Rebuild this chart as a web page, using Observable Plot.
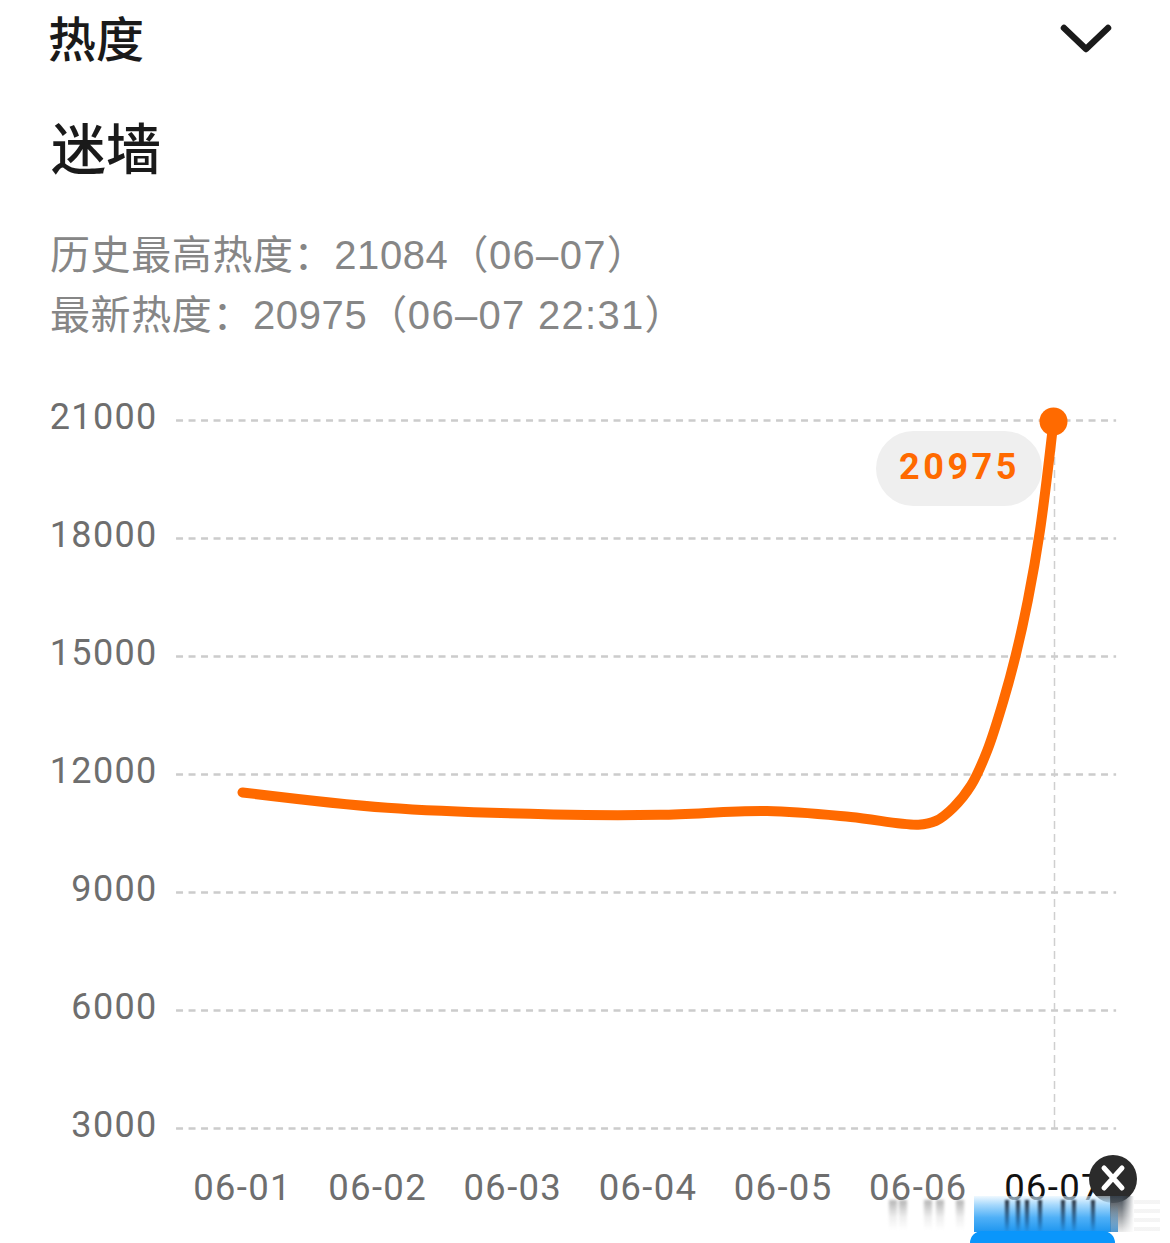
<!DOCTYPE html>
<html lang="zh">
<head>
<meta charset="utf-8">
<script src="https://cdn.jsdelivr.net/npm/d3@7"></script>
<script src="https://cdn.jsdelivr.net/npm/@observablehq/plot@0.6"></script>
<style>
  html, body { margin: 0; padding: 0; background: #fff; }
  #page { position: relative; width: 1170px; height: 1243px; overflow: hidden; font-family: "Liberation Sans", "Noto Sans CJK SC", sans-serif; }
  #head { position: absolute; left: 0; top: 0; width: 1170px; height: 380px; }
  #head div { position: absolute; white-space: pre; font-family: "Liberation Sans", "Noto Sans CJK SC", sans-serif; }
  #head .sub { font-size: 40px; line-height: 60px; color: #868686; letter-spacing: 0.6px; }
  #head .sub span { letter-spacing: 1.3px; }
  #chart { position: absolute; left: 0; top: 380px; z-index: 2; }
  #chart svg text { letter-spacing: 1.3px; }
  #chart svg .val text { letter-spacing: 3.5px; }
  .deco { position: absolute; z-index: 3; }
</style>
</head>
<body>
<div id="page">
  <div id="head">
    <div style="left:48px;top:9px;font-size:48px;line-height:64px;font-weight:500;color:#1a1a1a">热度</div>
    <svg style="position:absolute;left:1056px;top:19px" width="60" height="40"><path d="M8 9 L30 30 L52 9" fill="none" stroke="#1a1a1a" stroke-width="6.5" stroke-linecap="round" stroke-linejoin="round"/></svg>
    <div style="left:51px;top:110px;font-size:55px;line-height:80px;font-weight:500;color:#1a1a1a">迷墙</div>
    <div class="sub" style="left:50px;top:225px">历史最高热度：21084（<span>06–07</span>）</div>
    <div class="sub" style="left:50px;top:285px">最新热度：20975（<span>06–07 22:31</span>）</div>
  </div>
  <div class="deco" style="z-index:1;left:876px;top:431px;width:166px;height:75px;border-radius:37.5px;background:#efefef"></div>
  <div id="chart"></div>
</div>
<script>
// Day of June (fractional where the curve was read between dates) and heat value
const days = [1, 2.07, 3.30, 4.09, 4.88, 5.50, 6.00, 6.13, 6.26, 6.39, 6.51, 6.63, 6.72, 6.81, 6.90, 7];
const heat = [11544, 11155, 10985, 10975, 11070, 10920, 10725, 10820, 11162, 11722, 12611, 13882, 15026, 16424, 18204, 20975];
const yTicks = [3000, 6000, 9000, 12000, 15000, 18000, 21000];
const xTicks = [1, 2, 3, 4, 5, 6, 7];
const xLabels = ["06-01", "06-02", "06-03", "06-04", "06-05", "06-06", "06-07"];
const latestDay = 7;
const latestHeat = 20975;

const series = days.map((d, i) => ({day: d, heat: heat[i]}));
const fmtX = d => xLabels[xTicks.indexOf(d)];
const gridFrom = 0.512, gridTo = 7.467;
const orange = "#ff6a00";

const plot = Plot.plot({
  width: 1170,
  height: 863,
  marginLeft: 242,
  marginRight: 117,
  marginTop: 40,
  marginBottom: 115,
  x: {domain: [1, 7]},
  y: {domain: [3000, 21000]},
  style: {background: "transparent", fontFamily: "Roboto, sans-serif", overflow: "visible"},
  marks: [
    Plot.ruleY(yTicks, {x1: gridFrom, x2: gridTo, y: d => d, stroke: "#cccccc", strokeWidth: 2.5, strokeDasharray: "7,5.5"}),
    Plot.ruleX([latestDay], {y1: 3000, y2: latestHeat, dx: 1, stroke: "#cfcfcf", strokeWidth: 1.5, strokeDasharray: "8,5"}),
    Plot.axisY({ticks: yTicks, tickFormat: d => String(d), tickSize: 0, tickPadding: 85, fontSize: 36, fill: "#6e6e6e", dy: -3, label: null}),
    Plot.axisX({ticks: xTicks.slice(0, 6), tickFormat: fmtX, tickSize: 0, tickPadding: 46, fontSize: 36.5, fill: "#6e6e6e", label: null}),
    Plot.axisX({ticks: xTicks.slice(6), tickFormat: fmtX, tickSize: 0, tickPadding: 46, fontSize: 36.5, fill: "#111111", label: null}),
    Plot.line(series, {x: "day", y: "heat", stroke: orange, strokeWidth: 10, curve: "catmull-rom"}),
    Plot.dot([{day: latestDay, heat: latestHeat}], {x: "day", y: "heat", r: 14, fill: orange}),
    Plot.text([latestHeat], {x: latestDay, y: latestHeat, text: d => String(d), dx: -94, dy: 46, fill: orange, fontSize: 36, fontWeight: 700, className: "val"})
  ]
});
document.getElementById("chart").appendChild(plot);

// Screenshot overlay at the lower right: close badge, blue button and smeared glow
const page = document.getElementById("page");
function deco(css, html) {
  const el = document.createElement("div");
  el.className = "deco";
  el.style.cssText = css;
  if (html) el.innerHTML = html;
  page.appendChild(el);
}
deco("left:1089px;top:1155px;width:48px;height:48px;border-radius:50%;background:#2b2b2b",
  '<svg width="48" height="48" style="display:block"><path d="M15 13 L33 33 M33 13 L15 33" stroke="#fff" stroke-width="5" stroke-linecap="round"/></svg>');
deco("left:974px;top:1196px;width:137px;height:36px;background:linear-gradient(to bottom,rgba(225,243,255,0.5),#a5d8fc 25%,#4fb0f7 60%,#1e96f0)");
deco("left:1110px;top:1196px;width:24px;height:36px;background:linear-gradient(to bottom,rgba(55,65,75,0.95),rgba(130,135,140,0.8) 55%,rgba(205,205,205,0.4));-webkit-mask-image:linear-gradient(to right,#000 50%,transparent);mask-image:linear-gradient(to right,#000 50%,transparent)");
deco("left:1110px;top:1205px;width:8px;height:27px;background:linear-gradient(to bottom,rgba(40,120,180,0),rgba(40,130,200,.8))");
deco("left:1134px;top:1200px;width:26px;height:32px;opacity:.3;background:repeating-linear-gradient(to bottom,#dcdcdc 0 4px,#fff 4px 9px)");
[1007, 1018, 1027, 1040, 1063, 1074, 1093].forEach(x =>
  deco(`left:${x - 2}px;top:1200px;width:4px;height:32px;background:linear-gradient(to bottom,rgba(15,20,30,.85),rgba(10,60,110,0.45) 70%,rgba(30,120,200,0.05));filter:blur(.9px)`));
[893, 903, 928, 940, 960].forEach(x =>
  deco(`left:${x - 4}px;top:1200px;width:8px;height:30px;background:linear-gradient(to bottom,rgba(130,130,130,.6),rgba(205,205,205,0.35) 55%,rgba(245,245,245,0));filter:blur(1.5px)`));
deco("left:970px;top:1231px;width:145px;height:24px;border-radius:12px 12px 0 0;background:#0a96fb");
</script>
</body>
</html>
